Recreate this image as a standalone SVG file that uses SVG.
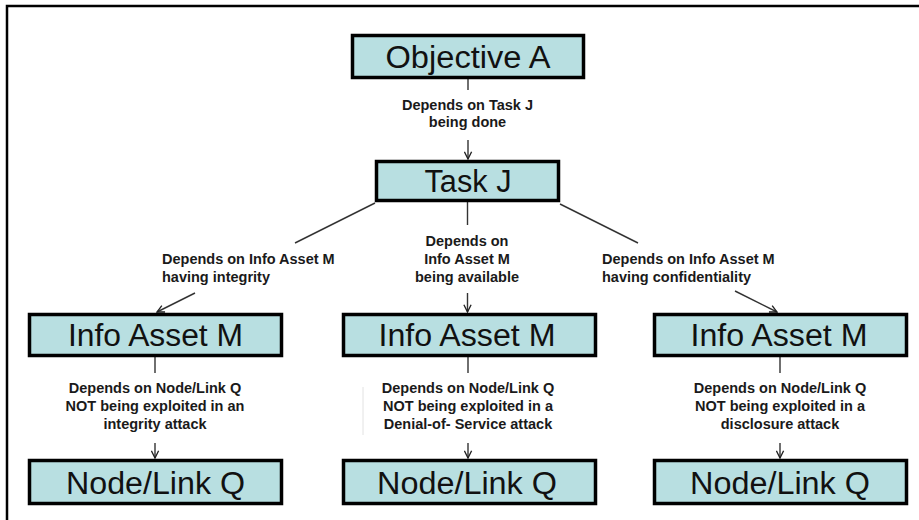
<svg xmlns="http://www.w3.org/2000/svg" width="919" height="520" viewBox="0 0 919 520">
<style>
.box{fill:#B8DFE1;stroke:#000;stroke-width:3.5}
.nt{font-family:"Liberation Sans",Arial,sans-serif;font-size:31px;fill:#111;text-anchor:middle}
.lb{font-family:"Liberation Sans",Arial,sans-serif;font-size:14.5px;font-weight:bold;fill:#1a1a1a}
.c{text-anchor:middle}
.cn{stroke:#333;stroke-width:1.4;fill:none}
</style>
<defs>
<marker id="ah" viewBox="0 0 10 10" refX="9" refY="5" markerWidth="9" markerHeight="9" markerUnits="userSpaceOnUse" orient="auto">
<path d="M1,1 L9,5 L1,9" fill="none" stroke="#222" stroke-width="1.5"/>
</marker>
</defs>
<rect width="919" height="520" fill="#fff"/>
<path d="M7,525 V6 H925" fill="none" stroke="#000" stroke-width="2.5"/>

<g id="connectors">
<path class="cn" d="M468,79 V90"/>
<path class="cn" d="M468,140 V159" marker-end="url(#ah)"/>
<path class="cn" d="M375,203 L295,243"/>
<path class="cn" d="M195,293 L157,312" marker-end="url(#ah)"/>
<path class="cn" d="M467.5,202 V225"/>
<path class="cn" d="M467.5,293 V312" marker-end="url(#ah)"/>
<path class="cn" d="M560,204 L638,243"/>
<path class="cn" d="M735,291 L777,312" marker-end="url(#ah)"/>
<path class="cn" d="M155,357 V373"/>
<path class="cn" d="M155,443 V458" marker-end="url(#ah)"/>
<path class="cn" d="M468,357 V373"/>
<path class="cn" d="M468,443 V458" marker-end="url(#ah)"/>
<path class="cn" d="M780,357 V373"/>
<path class="cn" d="M780,443 V458" marker-end="url(#ah)"/>
<path d="M363,387 V435" stroke="#e2e2e2" stroke-width="1"/>
<text class="lb c" x="467.5" y="109.5">Depends on Task J</text>
<text class="lb c" x="467.5" y="127">being done</text>
<text class="lb" x="162" y="264">Depends on Info Asset M</text>
<text class="lb" x="162" y="282">having integrity</text>
<text class="lb c" x="467" y="246">Depends on</text>
<text class="lb c" x="467" y="264">Info Asset M</text>
<text class="lb c" x="467" y="282">being available</text>
<text class="lb" x="602" y="264">Depends on Info Asset M</text>
<text class="lb" x="602" y="282">having confidentiality</text>
<text class="lb c" x="155" y="393">Depends on Node/Link Q</text>
<text class="lb c" x="155" y="411">NOT being exploited in an</text>
<text class="lb c" x="155" y="429">integrity attack</text>
<text class="lb c" x="468" y="393">Depends on Node/Link Q</text>
<text class="lb c" x="468" y="411">NOT being exploited in a</text>
<text class="lb c" x="468" y="429">Denial-of- Service attack</text>
<text class="lb c" x="780" y="393">Depends on Node/Link Q</text>
<text class="lb c" x="780" y="411">NOT being exploited in a</text>
<text class="lb c" x="780" y="429">disclosure attack</text>
</g>

<g id="objective-a"><rect class="box" x="352.5" y="35.5" width="231" height="42"/><text class="nt" x="468" y="68" textLength="165" lengthAdjust="spacingAndGlyphs">Objective A</text></g>
<g id="task-j"><rect class="box" x="376.5" y="161.5" width="182" height="39"/><text class="nt" x="468" y="192" textLength="87" lengthAdjust="spacingAndGlyphs">Task J</text></g>
<g id="info-asset-left"><rect class="box" x="29.5" y="314.5" width="252" height="41"/><text class="nt" x="155.5" y="346" textLength="175" lengthAdjust="spacingAndGlyphs">Info Asset M</text></g>
<g id="info-asset-mid"><rect class="box" x="343.5" y="314.5" width="252" height="41"/><text class="nt" x="467" y="346" textLength="177" lengthAdjust="spacingAndGlyphs">Info Asset M</text></g>
<g id="info-asset-right"><rect class="box" x="654.5" y="314.5" width="252" height="41"/><text class="nt" x="779" y="346" textLength="177" lengthAdjust="spacingAndGlyphs">Info Asset M</text></g>
<g id="node-link-left"><rect class="box" x="29.5" y="460.5" width="252" height="43"/><text class="nt" x="155.5" y="494" textLength="179" lengthAdjust="spacingAndGlyphs">Node/Link Q</text></g>
<g id="node-link-mid"><rect class="box" x="343.5" y="460.5" width="252" height="43"/><text class="nt" x="467" y="494" textLength="180" lengthAdjust="spacingAndGlyphs">Node/Link Q</text></g>
<g id="node-link-right"><rect class="box" x="654.5" y="460.5" width="252" height="43"/><text class="nt" x="780" y="494" textLength="180" lengthAdjust="spacingAndGlyphs">Node/Link Q</text></g>
</svg>
